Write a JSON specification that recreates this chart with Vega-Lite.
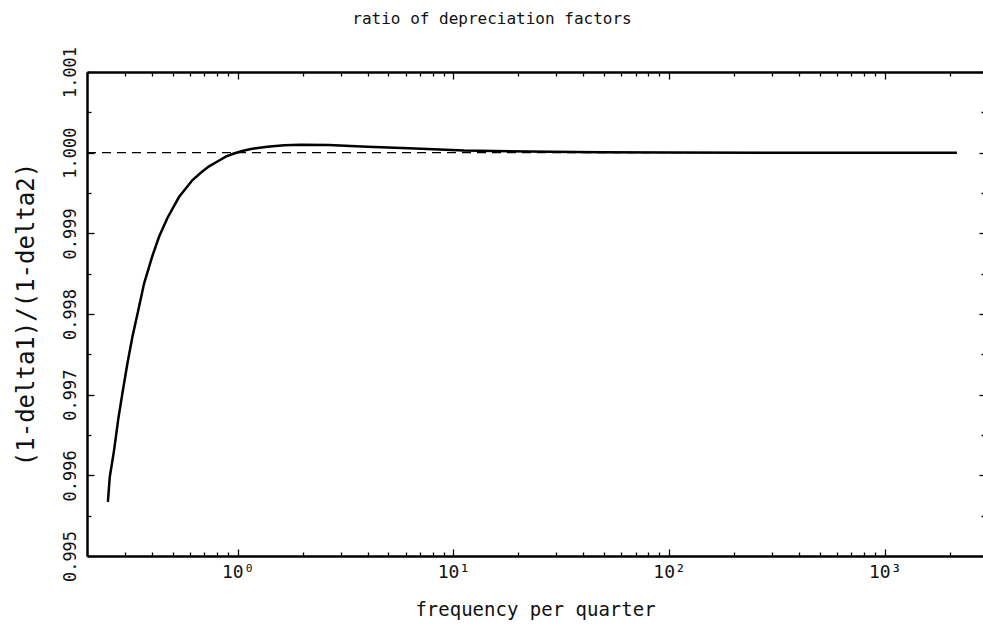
{
  "$schema": "https://vega.github.io/schema/vega-lite/v6.json",
  "width": 896,
  "height": 484,
  "autosize": {"type": "none"},
  "padding": {"left": 87, "top": 72, "right": 0, "bottom": 74},
  "background": "white",
  "title": {"text": "ratio of depreciation factors", "font": "DejaVu Sans Mono", "fontSize": 16, "fontWeight": "normal", "color": "#111", "offset": 19, "dx": -43, "anchor": "middle"},
  "datasets": {
    "curve": [
      {"f": 0.25, "v": 0.99567},
      {"f": 0.255, "v": 0.99598},
      {"f": 0.267, "v": 0.99631},
      {"f": 0.279, "v": 0.99669},
      {"f": 0.292, "v": 0.99702},
      {"f": 0.308, "v": 0.99739},
      {"f": 0.325, "v": 0.99772},
      {"f": 0.346, "v": 0.99805},
      {"f": 0.368, "v": 0.99838},
      {"f": 0.402, "v": 0.99872},
      {"f": 0.432, "v": 0.99896},
      {"f": 0.472, "v": 0.99919},
      {"f": 0.534, "v": 0.99945},
      {"f": 0.617, "v": 0.99966},
      {"f": 0.674, "v": 0.99975},
      {"f": 0.736, "v": 0.99983},
      {"f": 0.805, "v": 0.99989},
      {"f": 0.88, "v": 0.99995},
      {"f": 0.96, "v": 0.99999},
      {"f": 1.05, "v": 1.00002},
      {"f": 1.15, "v": 1.000045},
      {"f": 1.37, "v": 1.000074},
      {"f": 1.64, "v": 1.000092},
      {"f": 1.96, "v": 1.000098},
      {"f": 2.64, "v": 1.000095},
      {"f": 3.99, "v": 1.000074},
      {"f": 6.21, "v": 1.000054},
      {"f": 11.2, "v": 1.000026},
      {"f": 28.3, "v": 1.000012},
      {"f": 48, "v": 1.000005},
      {"f": 100, "v": 1.000002},
      {"f": 300, "v": 1.0},
      {"f": 2160, "v": 1.0}
    ],
    "ref": [
      {"f": 0.2, "v": 1.0},
      {"f": 2160, "v": 1.0}
    ]
  },
  "config": {
    "view": {"stroke": null},
    "axis": {
      "domainColor": "black",
      "domainWidth": 2.5,
      "tickColor": "black",
      "tickWidth": 1.3,
      "grid": false,
      "labelFont": "DejaVu Sans Mono",
      "labelFontSize": 17,
      "labelColor": "#111",
      "titleFont": "DejaVu Sans Mono",
      "titleFontWeight": "normal",
      "titleColor": "#111"
    }
  },
  "layer": [
    {
      "data": {"name": "curve"},
      "mark": {"type": "line", "color": "black", "strokeWidth": 2.5},
      "encoding": {
        "x": {
          "field": "f", "type": "quantitative",
          "scale": {"type": "log", "domain": [0.2, 2854], "nice": false},
          "axis": {
            "orient": "bottom",
            "values": [0.2, 0.3, 0.4, 0.5, 0.6, 0.7, 0.8, 0.9, 1, 2, 3, 4, 5, 6, 7, 8, 9, 10, 20, 30, 40, 50, 60, 70, 80, 90, 100, 200, 300, 400, 500, 600, 700, 800, 900, 1000, 2000],
            "labelExpr": "datum.value == 1 ? '10⁰' : datum.value == 10 ? '10¹' : datum.value == 100 ? '10²' : datum.value == 1000 ? '10³' : ''",
            "labelOverlap": false,
            "labelFlush": false,
            "labelPadding": 14,
            "labelFontSize": 18,
            "tickSize": {"condition": {"test": "indexof([1,10,100,1000], datum.value) >= 0", "value": -7}, "value": -4},
            "title": "frequency per quarter",
            "titleFontSize": 19,
            "titlePadding": 16
          }
        },
        "y": {
          "field": "v", "type": "quantitative",
          "scale": {"domain": [0.995, 1.001], "nice": false, "zero": false},
          "axis": {
            "orient": "left",
            "values": [0.995, 0.9955, 0.996, 0.9965, 0.997, 0.9975, 0.998, 0.9985, 0.999, 0.9995, 1.0, 1.0005, 1.001],
            "labelExpr": "round(datum.value*2000) % 2 == 0 ? format(datum.value, '.3f') : ''",
            "labelAngle": -90,
            "labelAlign": "center",
            "labelBaseline": "bottom",
            "labelOverlap": false,
            "labelFlush": false,
            "labelPadding": 15,
            "tickSize": {"condition": {"test": "round(datum.value*2000) % 2 == 0", "value": -7}, "value": -4},
            "title": "(1-delta1)/(1-delta2)",
            "titleFontSize": 24,
            "titlePadding": 20
          }
        }
      }
    },
    {
      "data": {"name": "ref"},
      "mark": {"type": "line", "color": "black", "strokeWidth": 1.3, "strokeDash": [9, 6]},
      "encoding": {
        "x": {
          "field": "f", "type": "quantitative",
          "scale": {"type": "log", "domain": [0.2, 2854], "nice": false},
          "axis": {
            "orient": "top",
            "values": [0.2, 0.3, 0.4, 0.5, 0.6, 0.7, 0.8, 0.9, 1, 2, 3, 4, 5, 6, 7, 8, 9, 10, 20, 30, 40, 50, 60, 70, 80, 90, 100, 200, 300, 400, 500, 600, 700, 800, 900, 1000, 2000],
            "labels": false,
            "title": null,
            "tickSize": {"condition": {"test": "indexof([1,10,100,1000], datum.value) >= 0", "value": -7}, "value": -4}
          }
        },
        "y": {
          "field": "v", "type": "quantitative",
          "scale": {"domain": [0.995, 1.001], "nice": false, "zero": false},
          "axis": {
            "orient": "right",
            "values": [0.995, 0.9955, 0.996, 0.9965, 0.997, 0.9975, 0.998, 0.9985, 0.999, 0.9995, 1.0, 1.0005, 1.001],
            "labels": false,
            "domain": false,
            "title": null,
            "tickSize": {"condition": {"test": "round(datum.value*2000) % 2 == 0", "value": -4}, "value": -2}
          }
        }
      }
    }
  ],
  "resolve": {"axis": {"x": "independent", "y": "independent"}}
}
